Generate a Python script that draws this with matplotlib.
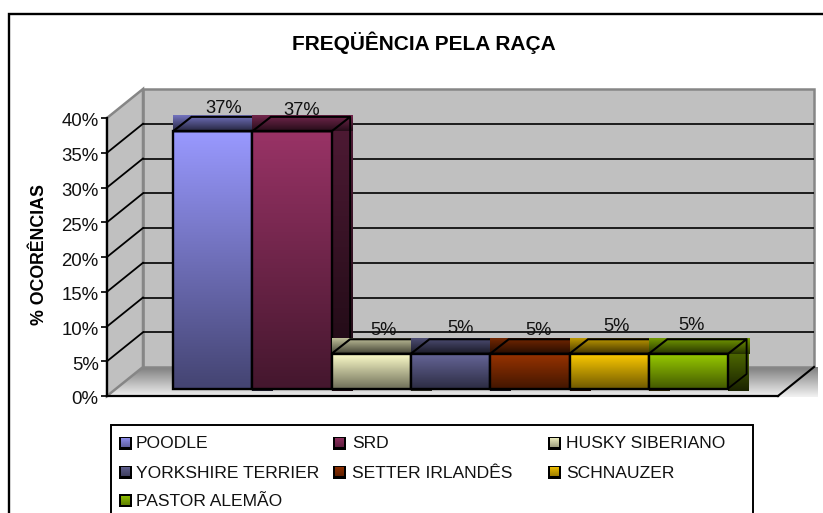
import numpy as np
import matplotlib
matplotlib.use("Agg")
import matplotlib.pyplot as plt
from matplotlib.patches import Polygon, Rectangle
from matplotlib.ticker import FuncFormatter
from matplotlib.colors import to_rgb
from matplotlib.transforms import ScaledTranslation

plt.rcParams['font.family'] = ['Liberation Sans', 'DejaVu Sans']

# ---- data ----
breeds = ["POODLE", "SRD", "HUSKY SIBERIANO", "YORKSHIRE TERRIER",
          "SETTER IRLANDÊS", "SCHNAUZER", "PASTOR ALEMÃO"]
percent = [37, 37, 5, 5, 5, 5, 5]
colors = ["#9999FF", "#993366", "#FFFFCC", "#666699", "#993300", "#FFCC00", "#99CC00"]
yticks = [0, 5, 10, 15, 20, 25, 30, 35, 40]
title = "FREQÜÊNCIA PELA RAÇA"
ylabel = "% OCORÊNCIAS"

# ---- layout (pixels) ----
W, H = 823, 513
L, R, B, T = 107, 778, 396, 118      # front plane of the axes box
BAR0, BARW = 173, 79.3               # first bar left edge / bar width
WALL = (36, 29)                      # depth of the walls
BAR_LIFT = 7.5                       # bar front above the front plane
TOP = (18.5, 14.5)                   # depth of a bar
FILL = (21, 15.5)                    # size of the filled block behind a bar
STUB = 3                             # how far the side block hangs below
LBL_SHIFT = [(11, 23), (10, 21), (12, 23), (10, 25), (9, 23), (7, 27), (3, 28)]

fig = plt.figure(figsize=(W / 100, H / 100), dpi=100, facecolor="white")
ax = fig.add_axes([L / W, 1 - B / H, (R - L) / W, (B - T) / H])
ax.set_autoscale_on(False)
ax.set_xlim((L - BAR0) / BARW, (R - BAR0) / BARW)
ax.set_ylim(0, 40)
ax.patch.set_visible(False)
PX = (R - L) / (ax.get_xlim()[1] - ax.get_xlim()[0])
PY = (B - T) / 40.0
xmin, xmax = ax.get_xlim()


def dx(p):
    return p / PX


def dy(p):
    return p / PY


def grad(x0, x1, y0, y1, top, bottom, z):
    t = np.array(to_rgb(top)) if isinstance(top, str) else np.array(top)
    b = np.array(to_rgb(bottom)) if isinstance(bottom, str) else np.array(bottom)
    s = np.linspace(0, 1, 64)[:, None, None]
    arr = t[None, None, :] * (1 - s) + b[None, None, :] * s
    ax.imshow(arr, extent=(x0, x1, y0, y1), origin="upper", aspect="auto",
              interpolation="bilinear", zorder=z, clip_on=False)
    ax.set_xlim(xmin, xmax)
    ax.set_ylim(0, 40)


def poly(pts, z, fc="none", ec="black", lw=1.5):
    ax.add_patch(Polygon(pts, closed=True, facecolor=fc, edgecolor=ec, linewidth=lw,
                         zorder=z, clip_on=False, joinstyle="miter"))


wx, wy = dx(WALL[0]), dy(WALL[1])
# floor (filled block, as in the source)
grad(xmin, xmax + wx + dx(3), dy(-1), wy, "#7f7f7f", "#f2f2f2", 1)
# back wall
poly([(xmin + wx, wy), (xmax + wx, wy), (xmax + wx, 40 + wy), (xmin + wx, 40 + wy)],
     1.2, fc="#C0C0C0", ec="#868686", lw=1.8)
# side wall
poly([(xmin, 0), (xmin + wx, wy), (xmin + wx, 40 + wy), (xmin, 40)],
     1.3, fc="#C0C0C0", ec="#868686", lw=1.8)
# gridlines
for v in yticks[1:-1]:
    ax.plot([xmin + wx, xmax + wx], [v + wy, v + wy], color="black", lw=1.2, zorder=1.4,
            clip_on=False, solid_capstyle="butt")
    ax.plot([xmin, xmin + wx], [v, v + wy], color="black", lw=1.3, zorder=1.4, clip_on=False)
# front right floor edge
ax.plot([xmax, xmax + wx], [0, wy], color="black", lw=1.5, zorder=1.5, clip_on=False)

# bars
lift = dy(BAR_LIFT)
tx, ty = dx(TOP[0]), dy(TOP[1])
fx, fy = dx(FILL[0]), dy(FILL[1])
for i, (v, c) in enumerate(zip(percent, colors)):
    base = np.array(to_rgb(c))
    z = 3 + i * 0.1
    x0, x1 = i, i + 1
    y0, y1 = lift, lift + v
    grad(x1, x1 + fx, y0 - dy(STUB), y1, base * 0.50, base * 0.17, z)
    grad(x0, x1 + fx, y1, y1 + fy, base * 0.75, base * 0.25, z + 0.01)
    grad(x0, x1, y0, y1, base, base * 0.45, z + 0.02)
    poly([(x0, y0), (x1, y0), (x1, y1), (x0, y1)], z + 0.03, lw=1.7)
    poly([(x0, y1), (x0 + tx, y1 + ty), (x1 + tx, y1 + ty), (x1, y1)], z + 0.03, lw=1.5)
    ax.plot([x1 + tx, x1 + tx, x1], [y1 + ty, y0 + ty, y0], color="black", lw=1.3,
            zorder=z + 0.025, clip_on=False)
    sx, sy = LBL_SHIFT[i]
    ax.text(i + 0.5 + dx(sx), v + lift + dy(sy), f"{v}%", ha="center", va="center",
            fontsize=13.2, color="#111111", zorder=9, clip_on=False)

# axes
for s in ("top", "right"):
    ax.spines[s].set_visible(False)
for s in ("left", "bottom"):
    ax.spines[s].set_linewidth(1.6)
    ax.spines[s].set_zorder(2)
ax.set_xticks([])
ax.set_yticks(yticks)
ax.yaxis.set_major_formatter(FuncFormatter(lambda v, _: f"{v:.0f}%"))
ax.tick_params(axis="y", length=4.5, width=1.3, pad=1.5, labelsize=13.4, colors="#111111")
for lab in ax.get_yticklabels():
    lab.set_transform(lab.get_transform() + ScaledTranslation(0, -2 / 100, fig.dpi_scale_trans))

fig.text(39 / W, 1 - 255 / H, ylabel, rotation=90, ha="center", va="center",
         fontsize=12.8, fontweight="bold")
fig.text(424 / W, 1 - 43 / H, title, ha="center", va="center", fontsize=15, fontweight="bold")

# outer frame (runs off the right and bottom edges)
fig.add_artist(plt.Line2D([1, 9 / W, 9 / W], [1 - 14 / H, 1 - 14 / H, 0], color="black",
                          lw=1.7, solid_joinstyle="miter"))
# legend box
fig.add_artist(plt.Line2D([111 / W, 111 / W, 753 / W, 753 / W],
                          [0, 1 - 425 / H, 1 - 425 / H, 0], color="black", lw=1.4,
                          solid_joinstyle="miter"))

col_sw = [118, 332, 547]
col_tx = [136, 352, 566]
rows = [443, 472, 501]
for i, (name, c) in enumerate(zip(breeds, colors)):
    r, k = divmod(i, 3)
    sx, sy = col_sw[k], rows[r]
    base = np.array(to_rgb(c))
    x0 = xmin + dx(sx - L)
    ax.add_patch(Rectangle((x0 + dx(1), dy(B - sy - 6.5)), dx(13), dy(13), facecolor="black",
                           edgecolor="none", zorder=19, clip_on=False))
    grad(x0 + dx(2.5), x0 + dx(11.5), dy(B - sy - 4.5), dy(B - sy + 4),
         base * 0.92, base * 0.62, 20)
    fig.text(col_tx[k] / W, 1 - (sy + 1) / H, name, ha="left", va="center",
             fontsize=12.6, color="#111111")

fig.savefig("out.png", dpi=100)
